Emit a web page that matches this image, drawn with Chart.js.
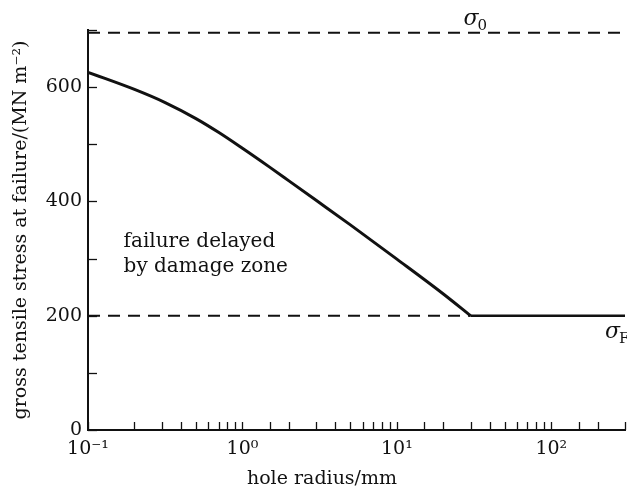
<!DOCTYPE html>
<html>
<head>
<meta charset="utf-8">
<script src="https://cdn.jsdelivr.net/npm/chart.js@4"></script>
<style>
  html, body { margin: 0; padding: 0; background: #fff; }
  #caixa { width: 627px; height: 491px; }
</style>
</head>
<body>
<div id="caixa"><canvas id="graficoFalha" width="627" height="491"></canvas></div>
<script>
/* ============================================================
   DADOS
============================================================ */
const raioFuro = [0.1, 0.2, 0.316, 0.5, 0.7, 1, 1.5, 2, 3, 5, 10, 20, 30];
const tensaoFalha = [626, 596, 573, 545, 521, 493, 460, 436, 402, 359, 299, 238, 200];
const raioPlato = [30, 300];
const tensaoPlato = [200, 200];
const raioLimites = [0.1, 300];
const sigma0 = 695;
const sigmaF = 200;
const xDecadas = [0.1, 1, 10, 100];
const xRotulos = ["10⁻¹", "10⁰", "10¹", "10²"];
const yRotulos = [0, 200, 400, 600];

const fonte = "'DejaVu Serif', 'Liberation Serif', serif";

const pares = (xs, ys) => xs.map((x, i) => ({ x, y: ys[i] }));

/* ============================================================
   PLUGIN: ticks para dentro + rótulos σ + textos
============================================================ */
const ticksInternos = {
  id: "ticksInternos",
  afterDraw(chart) {
    const { ctx, scales } = chart;
    const sx = scales.x, sy = scales.y;
    ctx.save();
    ctx.strokeStyle = "#111";
    ctx.lineWidth = 1.3;
    sx.ticks.forEach((t) => {
      const px = Math.round(sx.getPixelForValue(t.value)) + 0.5;
      ctx.beginPath();
      ctx.moveTo(px, sx.top);
      ctx.lineTo(px, sx.top - 8);
      ctx.stroke();
    });
    sy.ticks.forEach((t) => {
      const py = Math.round(sy.getPixelForValue(t.value)) + 0.5;
      ctx.beginPath();
      ctx.moveTo(sy.right, py);
      ctx.lineTo(sy.right + 9, py);
      ctx.stroke();
    });

    // rótulos σ0 e σF
    ctx.fillStyle = "#111";
    ctx.textBaseline = "alphabetic";
    const desenhaSigma = (px, py, sub) => {
      ctx.font = "italic 22px " + fonte;
      ctx.fillText("σ", px, py);
      const w = ctx.measureText("σ").width;
      ctx.font = "15px " + fonte;
      ctx.fillText(sub, px + w - 1, py + 5);
    };
    desenhaSigma(sx.getPixelForValue(30) - 7, sy.getPixelForValue(sigma0) - 8, "0");
    desenhaSigma(sx.getPixelForValue(300) - 20, sy.getPixelForValue(sigmaF) + 22, "F");

    // texto da região
    ctx.font = "20px " + fonte;
    ctx.fillText("failure delayed", sx.getPixelForValue(0.17), sy.getPixelForValue(333) + 7);
    ctx.fillText("by damage zone", sx.getPixelForValue(0.17), sy.getPixelForValue(288) + 7);

    // título do eixo x
    ctx.font = "19px " + fonte;
    ctx.textAlign = "center";
    ctx.fillText("hole radius/mm", 322, 484);
    ctx.restore();
  },
};

/* ============================================================
   GRÁFICO
============================================================ */
new Chart(document.getElementById("graficoFalha"), {
  type: "scatter",
  data: {
    datasets: [
      {
        label: "curva",
        data: pares(raioFuro, tensaoFalha),
        showLine: true,
        borderColor: "#111",
        borderWidth: 3,
        pointRadius: 0,
        cubicInterpolationMode: "monotone",
      },
      {
        label: "plato",
        data: pares(raioPlato, tensaoPlato),
        showLine: true,
        borderColor: "#111",
        borderWidth: 2.5,
        pointRadius: 0,
      },
      {
        label: "sigma0",
        data: pares(raioLimites, [sigma0, sigma0]),
        showLine: true,
        borderColor: "#111",
        borderWidth: 2,
        borderDash: [12, 8],
        pointRadius: 0,
      },
      {
        label: "sigmaF",
        data: pares([0.1, 30], [sigmaF, sigmaF]),
        showLine: true,
        borderColor: "#111",
        borderWidth: 2,
        borderDash: [12, 8],
        pointRadius: 0,
      },
    ],
  },
  options: {
    responsive: false,
    animation: false,
    layout: { padding: { top: 30, right: 2, left: 0, bottom: 0 } },
    plugins: { legend: { display: false }, tooltip: { enabled: false } },
    scales: {
      x: {
        type: "logarithmic",
        min: 0.1,
        max: 300,
        grid: { display: false, drawTicks: false },
        border: { display: true, color: "#111", width: 2 },
        ticks: {
          autoSkip: false,
          maxRotation: 0,
          color: "#111",
          font: { family: fonte, size: 19 },
          padding: 8,
          callback: (v) => {
            const i = xDecadas.findIndex((d) => Math.abs(d - v) < d * 1e-6);
            return i >= 0 ? xRotulos[i] : "";
          },
        },
        afterFit: (s) => {
          s.height = 61;
          s.paddingLeft = 0;
          s.paddingRight = 0;
        },
      },
      y: {
        min: 0,
        max: 700,
        grid: { display: false, drawTicks: false },
        border: { display: true, color: "#111", width: 2 },
        ticks: {
          stepSize: 100,
          color: "#111",
          font: { family: fonte, size: 19 },
          padding: 6,
          callback: (v) => (yRotulos.includes(v) ? String(v) : ""),
        },
        title: {
          display: true,
          text: "gross tensile stress at failure/(MN m⁻²)",
          color: "#111",
          font: { family: fonte, size: 19 },
          padding: { top: 10, bottom: 0 },
        },
        afterFit: (s) => {
          s.width = 88;
          s.paddingTop = 0;
          s.paddingBottom = 0;
        },
      },
    },
  },
  plugins: [ticksInternos],
});
</script>
</body>
</html>
